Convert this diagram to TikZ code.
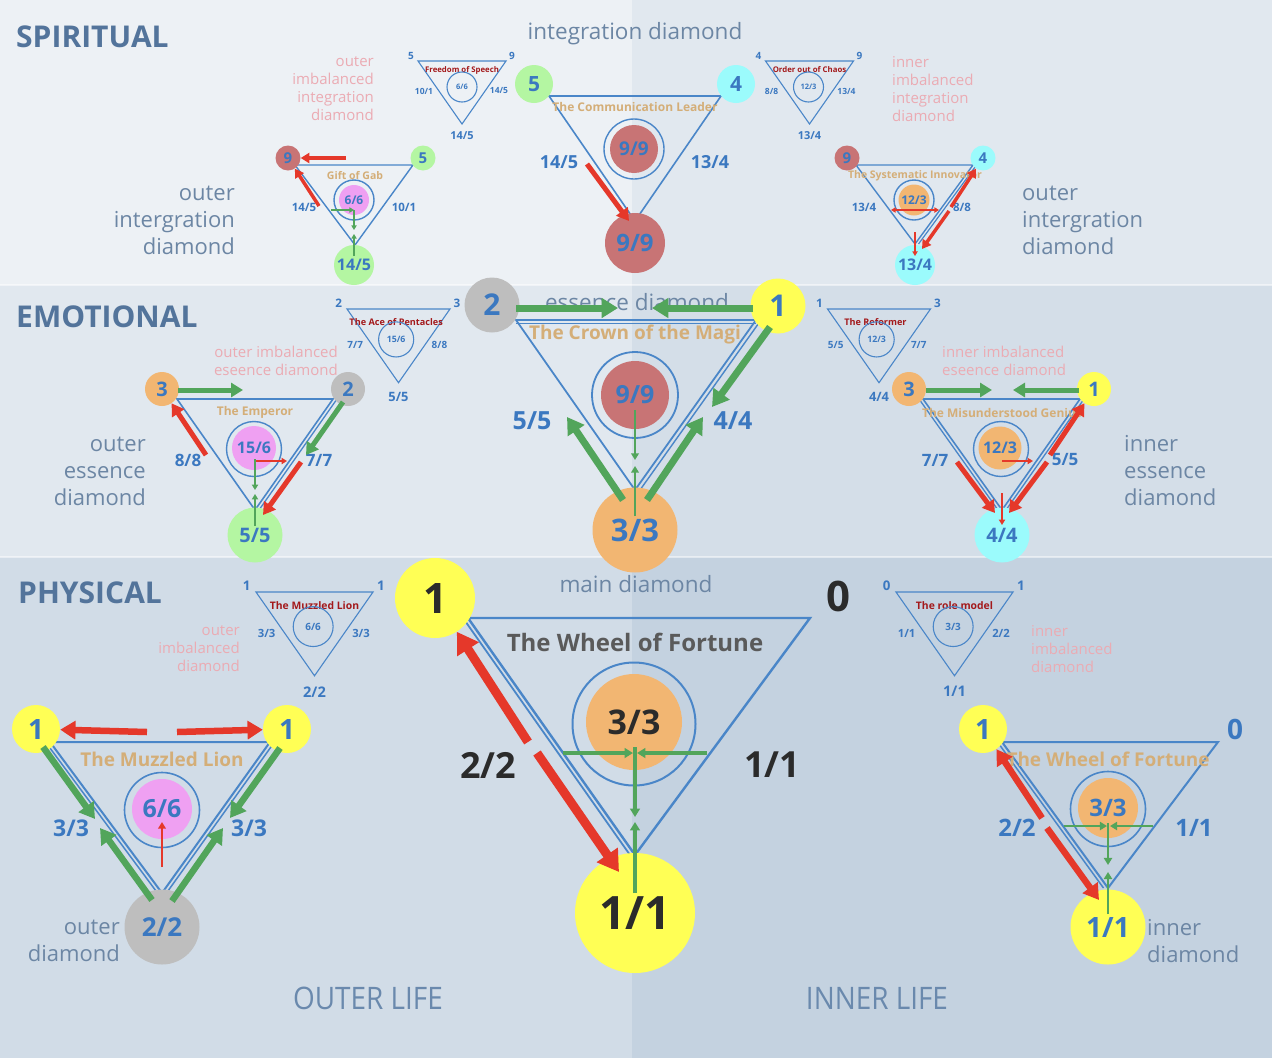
\documentclass[tikz,border=0pt]{standalone}
\usepackage{fontspec}
\setmainfont{Open Sans}
\newfontfamily\lifefont[FakeStretch=0.9]{Open Sans}
\usetikzlibrary{arrows.meta}
\definecolor{spiL}{HTML}{EDF1F5}
\definecolor{spiR}{HTML}{E1E8EF}
\definecolor{emoL}{HTML}{E1E8EF}
\definecolor{emoR}{HTML}{D4DEE8}
\definecolor{phyL}{HTML}{D1DCE7}
\definecolor{phyR}{HTML}{C4D2E0}
\definecolor{triblue}{HTML}{4A86C8}
\definecolor{numblue}{HTML}{3B78C0}
\definecolor{headblue}{HTML}{53749B}
\definecolor{capgray}{HTML}{6C86A4}
\definecolor{rosetext}{HTML}{EBABB3}
\definecolor{titletan}{HTML}{D4AE78}
\definecolor{titlered}{HTML}{A3191B}
\definecolor{wheelgray}{HTML}{5A5A5A}
\definecolor{inkblack}{HTML}{2B2B2B}
\definecolor{arrred}{HTML}{E5382A}
\definecolor{arrgreen}{HTML}{52A55B}
\definecolor{sunyellow}{HTML}{FFFF55}
\definecolor{mintgreen}{HTML}{B4F6A2}
\definecolor{skycyan}{HTML}{9BFBFC}
\definecolor{rosybrown}{HTML}{C87475}
\definecolor{peach}{HTML}{F2B672}
\definecolor{orchid}{HTML}{EFA0F2}
\definecolor{ashgray}{HTML}{BEBEBE}
\definecolor{lifeblue}{HTML}{6A89AD}
\newcommand{\bsz}[1]{\bfseries\fontsize{#1}{#1}\selectfont}
\tikzset{
  bandhead/.style={anchor=west, inner sep=0pt, text=headblue, font=\bsz{30}},
  diamcap/.style={inner sep=0pt, text=capgray, font=\fontsize{22.5}{27}\selectfont},
  sidecap/.style={inner sep=0pt, text=capgray, font=\fontsize{22}{27}\selectfont},
  rosenote/.style={inner sep=0pt, text=rosetext, font=\fontsize{15}{18}\selectfont},
  triside/.style={draw=triblue, line width=#1},
  triside/.default=1.5,
  halo/.style={circle, draw=triblue, line width=1.4, inner sep=0pt},
  disc/.style={circle, inner sep=0pt, text=numblue},
  numlbl/.style={inner sep=0pt, text=numblue},
  titletxt/.style={inner sep=0pt, text=titletan},
  minitop/.style={inner sep=0pt, text=titlered, font=\bsz{7.8}},
  minivx/.style={inner sep=0pt, text=numblue, font=\bsz{10}},
  miniside/.style={inner sep=0pt, text=numblue, font=\bsz{8.5}},
  minibot/.style={inner sep=0pt, text=numblue, font=\bsz{11}},
  minictr/.style={inner sep=0pt, text=numblue, font=\bsz{7.5}},
  redarr/.style={draw=arrred, line width=#1, -{Triangle[length=1pt 2.2, width=1pt 2.6]}},
  greenarr/.style={draw=arrgreen, line width=#1, -{Triangle[length=1pt 2.2, width=1pt 2.6]}},
}
\begin{document}
\begin{tikzpicture}[x=1pt, y=-1pt]
\useasboundingbox (0,0) rectangle (1272,1058);
% bands
\fill[spiL] (0,0) rectangle (632,285);
\fill[spiR] (632,0) rectangle (1272,285);
\fill[emoL] (0,285) rectangle (632,557);
\fill[emoR] (632,285) rectangle (1272,557);
\fill[phyL] (0,557) rectangle (632,1058);
\fill[phyR] (632,557) rectangle (1272,1058);
\draw[white, opacity=0.5, line width=2] (0,285) -- (1272,285) (0,557) -- (1272,557);

% ================= SPIRITUAL
\node[bandhead] (spihead) at (16,37) {SPIRITUAL};
\node[diamcap] (spicap) at (635,34) {integration diamond};

% mini: Freedom of Speech
\begin{scope}[shift={(462,61)}, transform shape]
  \draw[triside=1.1] (-44,0) coordinate (fsL) -- (44,0) coordinate (fsR) -- (0,63) coordinate (fsB) -- cycle;
  \node[minitop] (fsT) at (0,9) {Freedom of Speech};
  \node[halo, line width=1.1, minimum size=30] (fsH) at (0,26) {};
  \node[minictr] (fsC) at (0,26) {6/6};
  \node[minivx] (fsV1) at (-51,-5) {5};
  \node[minivx] (fsV2) at (50,-5) {9};
  \node[miniside] (fsS1) at (-38,30) {10/1};
  \node[miniside] (fsS2) at (37,30) {14/5};
  \node[minibot] (fsS3) at (0,75) {14/5};
\end{scope}
\node[rosenote, anchor=east, align=right] (oirose) at (374,89) {outer\\imbalanced\\integration\\diamond};
\node[sidecap, anchor=east, align=right] (oicap) at (235,220) {outer\\intergration\\diamond};

% outer integration diamond
\coordinate (ogL) at (295,165);
\coordinate (ogR) at (413,165);
\coordinate (ogB) at (355,245);
\draw[triside=1.4] (ogL) -- (ogR) -- (ogB) -- cycle;
\node[titletxt, font=\bsz{10.5}] (ogtitle) at (355,176) {Gift of Gab};
\node[halo, minimum size=40] (oghalo) at (354,200) {};
\node[disc, fill=orchid, minimum size=30, font=\bsz{12}] (ogcore) at (354,200) {6/6};
\node[disc, fill=rosybrown, minimum size=25, font=\bsz{15}] (og9) at (288,158) {9};
\node[disc, fill=mintgreen, minimum size=25, font=\bsz{15}] (og5) at (423,158) {5};
\node[disc, fill=mintgreen, minimum size=40, font=\bsz{16}] (og145) at (354,265) {14/5};
\node[numlbl, font=\bsz{11.5}] (oglA) at (304,207) {14/5};
\node[numlbl, font=\bsz{11.5}] (oglB) at (404,207) {10/1};
\coordinate (ogp1) at (346,158);
\coordinate (ogp2) at (319,206);
\coordinate (ogk1) at (331,210);
\coordinate (ogk2) at (354,210);
\coordinate (ogk3) at (354,230);
\coordinate (ogk4) at (354,256);
\coordinate (ogk5) at (354,234);
\draw[redarr=3.5] (ogp1) -- (og9);
\draw[redarr=3.5] (ogp2) -- (og9);
\draw[greenarr=1.6] (ogk1) -- (ogk2);
\draw[greenarr=1.6] (ogk2) -- (ogk3);
\draw[greenarr=1.6] (ogk4) -- (ogk5);

% integration diamond
\coordinate (ciL) at (549,96);
\coordinate (ciR) at (721,96);
\coordinate (ciB) at (635,221);
\draw[triside=1.6] (ciL) -- (ciR) -- (ciB) -- cycle;
\node[titletxt, font=\bsz{12}] (cititle) at (635,107) {The Communication Leader};
\node[halo, minimum size=60] (cihalo) at (634,149) {};
\node[disc, fill=rosybrown, minimum size=48, font=\bsz{19}] (cicore) at (634,149) {9/9};
\node[disc, fill=mintgreen, minimum size=38, font=\bsz{21}] (ci5) at (534,84) {5};
\node[disc, fill=skycyan, minimum size=38, font=\bsz{21}] (ci4) at (736,84) {4};
\node[disc, fill=rosybrown, minimum size=60, font=\bsz{24}] (ci99) at (635,243) {9/9};
\node[numlbl, font=\bsz{18}] (cilA) at (559,162) {14/5};
\node[numlbl, font=\bsz{18}] (cilB) at (710,162) {13/4};
\coordinate (cip1) at (587,164);
\coordinate (cip2) at (629,221);
\draw[redarr=5] (cip1) -- (cip2);

% mini: Order out of Chaos
\begin{scope}[shift={(809.5,61)}, transform shape]
  \draw[triside=1.1] (-44,0) coordinate (ocL) -- (44,0) coordinate (ocR) -- (0,63) coordinate (ocB) -- cycle;
  \node[minitop] (ocT) at (0,9) {Order out of Chaos};
  \node[halo, line width=1.1, minimum size=30] (ocH) at (-1,26) {};
  \node[minictr] (ocC) at (-1,26) {12/3};
  \node[minivx] (ocV1) at (-51,-5) {4};
  \node[minivx] (ocV2) at (50,-5) {9};
  \node[miniside] (ocS1) at (-38,30) {8/8};
  \node[miniside] (ocS2) at (37,30) {13/4};
  \node[minibot] (ocS3) at (0,75) {13/4};
\end{scope}
\node[rosenote, anchor=west, align=left] (iirose) at (892,89) {inner\\imbalanced\\integration\\diamond};
\node[sidecap, anchor=west, align=left] (iicap) at (1022,220) {outer\\intergration\\diamond};

% inner integration diamond
\coordinate (iiL) at (856,165);
\coordinate (iiR) at (973,165);
\coordinate (iiB) at (915,244);
\draw[triside=1.4] (iiL) -- (iiR) -- (iiB) -- cycle;
\draw[triside=1.2] ([xshift=3.5]iiR) -- ([xshift=3.5]iiB);
\node[titletxt, font=\bsz{10.5}] (iititle) at (915,176) {The Systematic Innovator};
\node[halo, minimum size=40] (iihalo) at (914,200) {};
\node[disc, fill=peach, minimum size=31, font=\bsz{12}] (iicore) at (914,200) {12/3};
\node[disc, fill=rosybrown, minimum size=25, font=\bsz{15}] (ii9) at (847,158) {9};
\node[disc, fill=skycyan, minimum size=25, font=\bsz{15}] (ii4) at (983,158) {4};
\node[disc, fill=skycyan, minimum size=40, font=\bsz{16}] (ii134) at (915,265) {13/4};
\node[numlbl, font=\bsz{11.5}] (iilA) at (864,207) {13/4};
\node[numlbl, font=\bsz{11.5}] (iilB) at (962,207) {8/8};
\coordinate (iip1) at (951,207);
\coordinate (iip2) at (949,211);
\coordinate (iip3) at (922,249);
\coordinate (iik0) at (915,210);
\coordinate (iik1) at (891,210);
\coordinate (iik2) at (939,210);
\coordinate (iik3) at (915,232);
\coordinate (iik4) at (915,256);
\draw[redarr=3.5] (iip1) -- (ii4);
\draw[redarr=3.5] (iip2) -- (iip3);
\draw[redarr=1.6] (iik0) -- (iik1);
\draw[redarr=1.6] (iik0) -- (iik2);
\draw[redarr=1.6] (iik3) -- (iik4);

% ================= EMOTIONAL
\node[bandhead] (emohead) at (16,317) {EMOTIONAL};

% mini: The Ace of Pentacles
\begin{scope}[shift={(398.5,309)}, scale=1.17, transform shape]
  \draw[triside=1.1] (-44,0) coordinate (apL) -- (44,0) coordinate (apR) -- (0,63) coordinate (apB) -- cycle;
  \node[minitop] (apT) at (-2,11) {The Ace of Pentacles};
  \node[halo, line width=1.1, minimum size=30] (apH) at (-2,26) {};
  \node[minictr] (apC) at (-2,26) {15/6};
  \node[minivx] (apV1) at (-51,-5) {2};
  \node[minivx] (apV2) at (50,-5) {3};
  \node[miniside] (apS1) at (-37,31) {7/7};
  \node[miniside] (apS2) at (35,31) {8/8};
  \node[minibot] (apS3) at (0,75) {5/5};
\end{scope}
\node[rosenote, anchor=east, align=right] (oerose) at (338,361) {outer imbalanced\\eseence diamond};
\node[sidecap, anchor=east, align=right] (oecap) at (146,471) {outer\\essence\\diamond};

% outer essence diamond
\coordinate (eoL) at (177,399);
\coordinate (eoR) at (333,399);
\coordinate (eoB) at (255,510);
\draw[triside=1.6] (eoL) -- (eoR) -- (eoB) -- cycle;
\draw[triside=1.3] ([xshift=4]eoR) -- ([xshift=4]eoB);
\node[titletxt, font=\bsz{12}] (eotitle) at (255,412) {The Emperor};
\node[halo, minimum size=55] (eohalo) at (254,449) {};
\node[disc, fill=orchid, minimum size=44, font=\bsz{16}] (eocore) at (254,448) {15/6};
\node[disc, fill=peach, minimum size=34, font=\bsz{20}] (eo3) at (162,389) {3};
\node[disc, fill=ashgray, minimum size=34, font=\bsz{20}] (eo2) at (348,389) {2};
\node[disc, fill=mintgreen, minimum size=55, font=\bsz{20}] (eo55) at (255,535) {5/5};
\node[numlbl, font=\bsz{17}] (eolA) at (188,460) {8/8};
\node[numlbl, font=\bsz{17}] (eolB) at (319,460) {7/7};
\coordinate (eop1) at (178,390);
\coordinate (eop2) at (243,390);
\coordinate (eop3) at (206,455);
\coordinate (eop4) at (343,402);
\coordinate (eop5) at (306,455);
\coordinate (eop6) at (301,462);
\coordinate (eop7) at (263,515);
\coordinate (eok1) at (256,461);
\coordinate (eok2) at (287,461);
\coordinate (eok3) at (255,459);
\coordinate (eok4) at (255,490);
\coordinate (eok5) at (255,526);
\coordinate (eok6) at (255,494);
\draw[greenarr=5] (eop1) -- (eop2);
\draw[redarr=5] (eop3) -- (eo3);
\draw[greenarr=5] (eop4) -- (eop5);
\draw[redarr=5] (eop6) -- (eop7);
\draw[redarr=2] (eok1) -- (eok2);
\draw[greenarr=2] (eok3) -- (eok4);
\draw[greenarr=2] (eok5) -- (eok6);

% essence diamond
\node[diamcap] (emocap) at (637,302) {essence diamond};
\coordinate (ecL) at (516,320);
\coordinate (ecR) at (756,320);
\coordinate (ecB) at (635,490);
\draw[triside=1.8] (ecL) -- (ecR) -- (ecB) -- cycle;
\draw[triside=1.4] ([yshift=-3.5]ecL) -- ([yshift=-3.5]ecR);
\draw[triside=1.4] ([xshift=5]ecR) -- ([xshift=5]ecB);
\node[titletxt, font=\bsz{19}] (ectitle) at (635,335) {The Crown of the Magi};
\node[halo, line width=1.8, minimum size=86] (echalo) at (635,395) {};
\node[disc, fill=rosybrown, minimum size=68, font=\bsz{25}] (eccore) at (635,395) {9/9};
\node[disc, fill=ashgray, minimum size=55, font=\bsz{30}] (ec2) at (492,305) {2};
\node[disc, fill=sunyellow, minimum size=55, font=\bsz{30}] (ec1) at (778,306) {1};
\node[disc, fill=peach, minimum size=85, font=\bsz{31}] (ec33) at (635,530) {3/3};
\node[numlbl, font=\bsz{25}] (eclA) at (532,421) {5/5};
\node[numlbl, font=\bsz{25}] (eclB) at (733,421) {4/4};
\coordinate (ecp1) at (516,308);
\coordinate (ecp2) at (618,308);
\coordinate (ecp3) at (753,308);
\coordinate (ecp4) at (652,308);
\coordinate (ecp5) at (770,327);
\coordinate (ecp6) at (712,407);
\coordinate (ecp7) at (623,500);
\coordinate (ecp8) at (567,417);
\coordinate (ecp9) at (647,500);
\coordinate (ecp10) at (703,417);
\coordinate (eck1) at (635,410);
\coordinate (eck2) at (635,460);
\coordinate (eck3) at (635,516);
\coordinate (eck4) at (635,466);
\draw[greenarr=7] (ecp1) -- (ecp2);
\draw[greenarr=7] (ecp3) -- (ecp4);
\draw[greenarr=7] (ecp5) -- (ecp6);
\draw[greenarr=7] (ecp7) -- (ecp8);
\draw[greenarr=7] (ecp9) -- (ecp10);
\draw[greenarr=2.6] (eck1) -- (eck2);
\draw[greenarr=2.6] (eck3) -- (eck4);

% mini: The Reformer
\begin{scope}[shift={(879,309)}, scale=1.17, transform shape]
  \draw[triside=1.1] (-44,0) coordinate (rfL) -- (44,0) coordinate (rfR) -- (0,63) coordinate (rfB) -- cycle;
  \node[minitop] (rfT) at (-3,11) {The Reformer};
  \node[halo, line width=1.1, minimum size=30] (rfH) at (-2,26) {};
  \node[minictr] (rfC) at (-2,26) {12/3};
  \node[minivx] (rfV1) at (-51,-5) {1};
  \node[minivx] (rfV2) at (50,-5) {3};
  \node[miniside] (rfS1) at (-37,31) {5/5};
  \node[miniside] (rfS2) at (34,31) {7/7};
  \node[minibot] (rfS3) at (0,75) {4/4};
\end{scope}
\node[rosenote, anchor=west, align=left] (ierose) at (942,361) {inner imbalanced\\eseence diamond};
\node[sidecap, anchor=west, align=left] (iecap) at (1124,471) {inner\\essence\\diamond};

% inner essence diamond
\coordinate (eiL) at (923,399);
\coordinate (eiR) at (1080,399);
\coordinate (eiB) at (1002,510);
\draw[triside=1.6] (eiL) -- (eiR) -- (eiB) -- cycle;
\draw[triside=1.3] ([xshift=-4]eiL) -- ([xshift=-4]eiB);
\draw[triside=1.3] ([xshift=4]eiR) -- ([xshift=4]eiB);
\node[titletxt, font=\bsz{12}] (eititle) at (1002,413) {The Misunderstood Genius};
\node[halo, minimum size=55] (eihalo) at (1001,449) {};
\node[disc, fill=peach, minimum size=43, font=\bsz{16}] (eicore) at (1000,448) {12/3};
\node[disc, fill=peach, minimum size=34, font=\bsz{20}] (ei3) at (909,389) {3};
\node[disc, fill=sunyellow, minimum size=34, font=\bsz{20}] (ei1) at (1094,389) {1};
\node[disc, fill=skycyan, minimum size=55, font=\bsz{20}] (ei44) at (1002,535) {4/4};
\node[numlbl, font=\bsz{17}] (eilA) at (935,460) {7/7};
\node[numlbl, font=\bsz{17}] (eilB) at (1065,460) {5/5};
\coordinate (eip1) at (926,390);
\coordinate (eip2) at (992,390);
\coordinate (eip3) at (1079,390);
\coordinate (eip4) at (1013,390);
\coordinate (eip5) at (1050,455);
\coordinate (eip6) at (1047,462);
\coordinate (eip7) at (1009,513);
\coordinate (eip8) at (957,462);
\coordinate (eip9) at (995,513);
\coordinate (eik1) at (1002,493);
\coordinate (eik2) at (1002,525);
\coordinate (eik3) at (1002,461);
\coordinate (eik4) at (1033,461);
\draw[greenarr=5] (eip1) -- (eip2);
\draw[greenarr=5] (eip3) -- (eip4);
\draw[redarr=5] (eip5) -- (ei1);
\draw[redarr=5] (eip6) -- (eip7);
\draw[redarr=5] (eip8) -- (eip9);
\draw[redarr=2] (eik1) -- (eik2);
\draw[redarr=2] (eik3) -- (eik4);

% ================= PHYSICAL
\node[bandhead] (phyhead) at (18,593) {PHYSICAL};
\node[diamcap] (phycap) at (636,584) {main diamond};

% mini: The Muzzled Lion
\begin{scope}[shift={(314.5,592)}, scale=1.33, transform shape]
  \draw[triside=1.1] (-44,0) coordinate (mlL) -- (44,0) coordinate (mlR) -- (0,63) coordinate (mlB) -- cycle;
  \node[minitop] (mlT) at (0,10) {The Muzzled Lion};
  \node[halo, line width=1.1, minimum size=30] (mlH) at (-1,26) {};
  \node[minictr] (mlC) at (-1,26) {6/6};
  \node[minivx] (mlV1) at (-51,-5) {1};
  \node[minivx] (mlV2) at (50,-5) {1};
  \node[miniside] (mlS1) at (-36,31) {3/3};
  \node[miniside] (mlS2) at (35,31) {3/3};
  \node[minibot] (mlS3) at (0,75) {2/2};
\end{scope}
\node[rosenote, anchor=east, align=right] (oprose) at (240,649) {outer\\imbalanced\\diamond};
\node[sidecap, anchor=east, align=right] (opcap) at (120,941) {outer\\diamond};

% outer diamond
\coordinate (poL) at (50,742);
\coordinate (poR) at (270,742);
\coordinate (poB) at (162,893);
\draw[triside=2] (poL) -- (poR) -- (poB) -- cycle;
\draw[triside=1.5] ([xshift=-4.5]poL) -- ([xshift=-4.5]poB);
\draw[triside=1.5] ([xshift=4.5]poR) -- ([xshift=4.5]poB);
\node[titletxt, font=\bsz{19}] (potitle) at (162,759) {The Muzzled Lion};
\node[halo, line width=1.6, minimum size=75] (pohalo) at (162,810) {};
\node[disc, fill=orchid, minimum size=60, font=\bsz{25}] (pocore) at (162,809) {6/6};
\node[disc, fill=sunyellow, minimum size=48, font=\bsz{28}] (po1a) at (36,729) {1};
\node[disc, fill=sunyellow, minimum size=48, font=\bsz{28}] (po1b) at (287,729) {1};
\node[disc, fill=ashgray, minimum size=75, font=\bsz{26}] (po22) at (162,927) {2/2};
\node[numlbl, font=\bsz{23}] (polA) at (71,828) {3/3};
\node[numlbl, font=\bsz{23}] (polB) at (249,828) {3/3};
\coordinate (pop1) at (147,732);
\coordinate (pop2) at (177,732);
\coordinate (pop3) at (43,747);
\coordinate (pop4) at (95,819);
\coordinate (pop5) at (152,900);
\coordinate (pop6) at (100,828);
\coordinate (pop7) at (280,748);
\coordinate (pop8) at (230,818);
\coordinate (pop9) at (172,901);
\coordinate (pop10) at (223,828);
\coordinate (pok1) at (162,867);
\coordinate (pok2) at (162,822);
\draw[redarr=6.5] (pop1) -- (po1a);
\draw[redarr=6.5] (pop2) -- (po1b);
\draw[greenarr=6.5] (pop3) -- (pop4);
\draw[greenarr=6.5] (pop5) -- (pop6);
\draw[greenarr=6.5] (pop7) -- (pop8);
\draw[greenarr=6.5] (pop9) -- (pop10);
\draw[redarr=2.6] (pok1) -- (pok2);

% main diamond
\coordinate (pmL) at (468,618);
\coordinate (pmR) at (810,618);
\coordinate (pmB) at (635,855);
\draw[triside=2.4] (pmL) -- (pmR) -- (pmB) -- cycle;
\draw[triside=1.8] ([xshift=-5]pmL) -- ([xshift=-5]pmB);
\node[font=\bsz{24}, text=wheelgray, inner sep=0pt] (pmtitle) at (635,642) {The Wheel of Fortune};
\node[halo, line width=2, minimum size=123] (pmhalo) at (634,724) {};
\node[disc, fill=peach, minimum size=96, text=inkblack, font=\bsz{34}] (pmcore) at (634,722) {3/3};
\node[disc, fill=sunyellow, minimum size=80, text=inkblack, font=\bsz{42}] (pm1) at (435,598) {1};
\node[numlbl, text=inkblack, font=\bsz{42}] (pm0) at (838,596) {0};
\node[disc, fill=sunyellow, minimum size=120, text=inkblack, font=\bsz{46}] (pm11) at (635,913) {1/1};
\node[numlbl, text=inkblack, font=\bsz{36}] (pmlA) at (488,765) {2/2};
\node[numlbl, text=inkblack, font=\bsz{36}] (pmlB) at (772,765) {1/1};
\coordinate (pmp1) at (528,742);
\coordinate (pmp2) at (537,753);
\coordinate (pmp3) at (619,872);
\coordinate (pmk1) at (563,753);
\coordinate (pmk2) at (633,753);
\coordinate (pmk3) at (707,753);
\coordinate (pmk4) at (637,753);
\coordinate (pmk5) at (635,747);
\coordinate (pmk6) at (635,817);
\coordinate (pmk7) at (635,893);
\coordinate (pmk8) at (635,822);
\draw[redarr=9] (pmp1) -- (pm1);
\draw[redarr=9] (pmp2) -- (pmp3);
\draw[greenarr=3.4] (pmk1) -- (pmk2);
\draw[greenarr=3.4] (pmk3) -- (pmk4);
\draw[greenarr=3.4] (pmk5) -- (pmk6);
\draw[greenarr=3.4] (pmk7) -- (pmk8);

% mini: The role model
\begin{scope}[shift={(954.5,592)}, scale=1.33, transform shape]
  \draw[triside=1.1] (-44,0) coordinate (rmL) -- (44,0) coordinate (rmR) -- (0,63) coordinate (rmB) -- cycle;
  \node[minitop] (rmT) at (0,10) {The role model};
  \node[halo, line width=1.1, minimum size=30] (rmH) at (-1,26) {};
  \node[minictr] (rmC) at (-1,26) {3/3};
  \node[minivx] (rmV1) at (-51,-5) {0};
  \node[minivx] (rmV2) at (50,-5) {1};
  \node[miniside] (rmS1) at (-36,31) {1/1};
  \node[miniside] (rmS2) at (35,31) {2/2};
  \node[minibot] (rmS3) at (0,75) {1/1};
\end{scope}
\node[rosenote, anchor=west, align=left] (iprose) at (1031,649) {inner\\imbalanced\\diamond};
\node[sidecap, anchor=west, align=left] (ipcap) at (1147,941) {inner\\diamond};

% inner diamond
\coordinate (piL) at (1002,742);
\coordinate (piR) at (1218,742);
\coordinate (piB) at (1108,888);
\draw[triside=2] (piL) -- (piR) -- (piB) -- cycle;
\draw[triside=1.5] ([xshift=-4.5]piL) -- ([xshift=-4.5]piB);
\node[titletxt, font=\bsz{19}] (pititle) at (1108,759) {The Wheel of Fortune};
\node[halo, line width=1.6, minimum size=75] (pihalo) at (1108,809) {};
\node[disc, fill=peach, minimum size=60, font=\bsz{24}] (picore) at (1108,808) {3/3};
\node[disc, fill=sunyellow, minimum size=48, font=\bsz{28}] (pi1) at (983,729) {1};
\node[numlbl, font=\bsz{28}] (pi0) at (1235,729) {0};
\node[disc, fill=sunyellow, minimum size=75, font=\bsz{28}] (pi11) at (1108,927) {1/1};
\node[numlbl, font=\bsz{24}] (pilA) at (1017,828) {2/2};
\node[numlbl, font=\bsz{24}] (pilB) at (1194,828) {1/1};
\coordinate (pip1) at (1042,818);
\coordinate (pip2) at (1047,828);
\coordinate (pip3) at (1099,900);
\coordinate (pik1) at (1064,826);
\coordinate (pik2) at (1107,826);
\coordinate (pik3) at (1153,826);
\coordinate (pik4) at (1110,826);
\coordinate (pik5) at (1108,823);
\coordinate (pik6) at (1108,865);
\coordinate (pik7) at (1108,914);
\coordinate (pik8) at (1108,872);
\draw[redarr=6.5] (pip1) -- (pi1);
\draw[redarr=6.5] (pip2) -- (pip3);
\draw[greenarr=2.8] (pik1) -- (pik2);
\draw[greenarr=2.8] (pik3) -- (pik4);
\draw[greenarr=2.8] (pik5) -- (pik6);
\draw[greenarr=2.8] (pik7) -- (pik8);

% life captions
\node[text=lifeblue, inner sep=0pt, font=\lifefont\fontsize{31}{31}\selectfont] (outerlife) at (368,998) {OUTER LIFE};
\node[text=lifeblue, inner sep=0pt, font=\lifefont\fontsize{31}{31}\selectfont] (innerlife) at (877,998) {INNER LIFE};
\end{tikzpicture}
\end{document}
